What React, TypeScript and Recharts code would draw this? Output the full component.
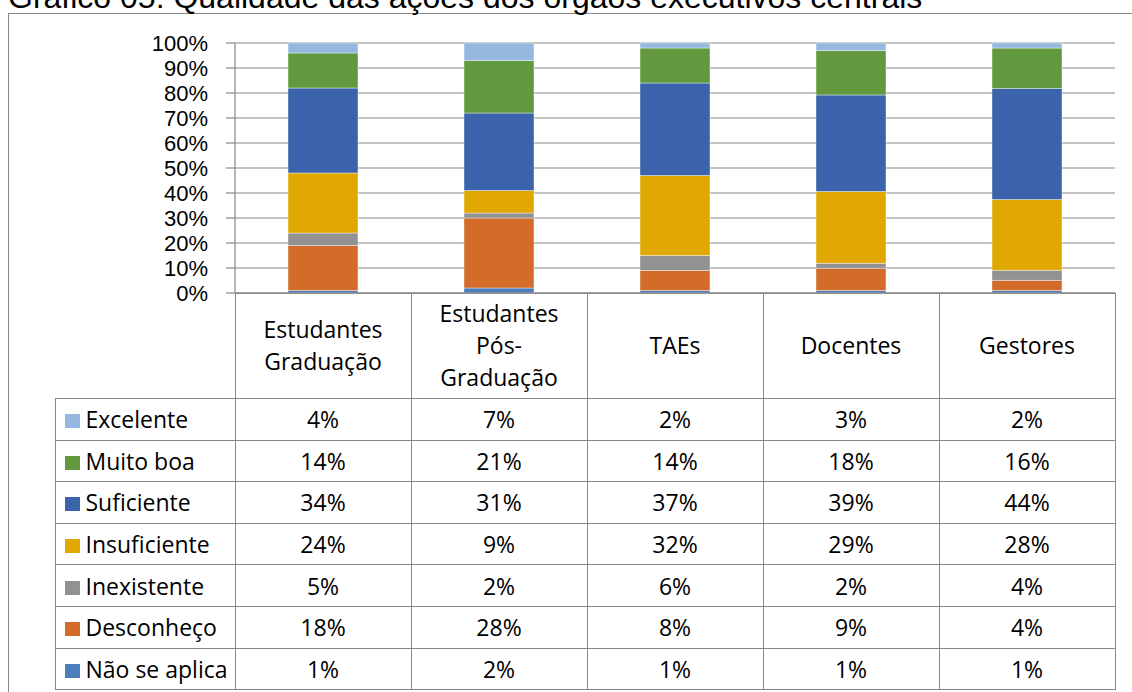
import { BarChart, Bar, XAxis, YAxis, CartesianGrid } from 'recharts'

const categories = ['Estudantes Graduação', 'Estudantes Pós-Graduação', 'TAEs', 'Docentes', 'Gestores']

// one array per answer, in category order (values in %)
const excelente = [4, 7, 2, 3, 2]
const muitoBoa = [14, 21, 14, 18, 16]
const suficiente = [34, 31, 37, 39, 44]
const insuficiente = [24, 9, 32, 29, 28]
const inexistente = [5, 2, 6, 2, 4]
const desconheco = [18, 28, 8, 9, 4]
const naoSeAplica = [1, 2, 1, 1, 1]

const yTicks = [0, 0.1, 0.2, 0.3, 0.4, 0.5, 0.6, 0.7, 0.8, 0.9, 1]

const title = 'Gráfico 05: Qualidade das ações dos órgãos executivos centrais'

// table order (top to bottom) = stack order reversed
const series = [
  { key: 'exc', name: 'Excelente', values: excelente, color: '#95b8e0' },
  { key: 'mb', name: 'Muito boa', values: muitoBoa, color: '#62993e' },
  { key: 'suf', name: 'Suficiente', values: suficiente, color: '#3a63ab' },
  { key: 'ins', name: 'Insuficiente', values: insuficiente, color: '#e0a800' },
  { key: 'inex', name: 'Inexistente', values: inexistente, color: '#929292' },
  { key: 'desc', name: 'Desconheço', values: desconheco, color: '#d36b29' },
  { key: 'nsa', name: 'Não se aplica', values: naoSeAplica, color: '#4b7eba' },
]

const data = categories.map((name, i) => {
  const row: Record<string, string | number> = { name }
  series.forEach(s => { row[s.key] = s.values[i] })
  return row
})

const GRID = '#888888'
const TABLE_FONT = '"Open Sans", "Noto Sans", sans-serif'

function CategoryTick(props: any) {
  const { x, y, payload } = props
  const lines: string[] = String(payload.value).split(/ |(?<=-)/)
  const mid = (lines.length - 1) / 2
  return (
    <g>
      {lines.map((line, i) => (
        <text
          key={i}
          x={x}
          y={y + 61 + (i - mid) * 32}
          textAnchor="middle"
          fontFamily={TABLE_FONT}
          fontSize={23}
          fill="#000"
        >
          {line}
        </text>
      ))}
    </g>
  )
}

const cell: React.CSSProperties = {
  border: `1px solid ${GRID}`,
  padding: 0,
  textAlign: 'center',
  whiteSpace: 'nowrap',
}

export default function App() {
  return (
    <div style={{ position: 'absolute', left: 0, top: 0, width: 1132, height: 692, overflow: 'hidden', background: '#fff' }}>
      <div style={{ position: 'absolute', left: 8, top: 13, width: 1200, height: 800, border: `1px solid ${GRID}` }} />
      <div
        style={{
          position: 'absolute',
          left: 8,
          top: -19,
          fontFamily: '"Liberation Sans", Arial, sans-serif',
          fontSize: 32,
          lineHeight: 1,
          whiteSpace: 'nowrap',
        }}
      >
        {title}
      </div>

      <table
        style={{
          position: 'absolute',
          left: 54.5,
          top: 292.5,
          width: 1061,
          borderCollapse: 'collapse',
          tableLayout: 'fixed',
          fontFamily: TABLE_FONT,
          fontSize: 23,
          color: '#000',
        }}
      >
        <colgroup>
          <col style={{ width: 180 }} />
          {categories.map(c => <col key={c} style={{ width: 176 }} />)}
        </colgroup>
        <tbody>
          <tr style={{ height: 105.5 }}>
            <td style={{ padding: 0 }} />
            {categories.map(c => <td key={c} style={cell} />)}
          </tr>
          {series.map(s => (
            <tr key={s.key} style={{ height: 41.6 }}>
              <td style={{ ...cell, textAlign: 'left', paddingLeft: 9 }}>
                <span style={{ display: 'inline-block', width: 15, height: 14, background: s.color, marginRight: 6 }} />
                {s.name}
              </td>
              {s.values.map((v, i) => <td key={i} style={cell}>{v}%</td>)}
            </tr>
          ))}
        </tbody>
      </table>

      <div style={{ position: 'absolute', left: 0, top: 0 }}>
        <BarChart
          width={1132}
          height={398}
          data={data}
          stackOffset="expand"
          margin={{ top: 43, right: 17, bottom: 0, left: 0 }}
          barSize={70}
        >
          <CartesianGrid vertical={false} stroke={GRID} strokeWidth={1.2} />
          <XAxis
            dataKey="name"
            height={105}
            axisLine={{ stroke: GRID, strokeWidth: 1.2 }}
            tickLine={false}
            tickSize={0}
            tickMargin={0}
            interval={0}
            tick={<CategoryTick />}
          />
          <YAxis
            width={235}
            domain={[0, 1]}
            ticks={yTicks}
            interval={0}
            tickFormatter={(v: number) => `${Math.round(v * 100)}%`}
            axisLine={{ stroke: GRID, strokeWidth: 1.2 }}
            tickLine={{ stroke: GRID, strokeWidth: 1.2 }}
            tickSize={9}
            tickMargin={18}
            tick={{ fill: '#000', fontSize: 22, fontFamily: '"Liberation Sans", Arial, sans-serif' }}
          />
          {[...series].reverse().map(s => (
            <Bar
              key={s.key}
              dataKey={s.key}
              name={s.name}
              stackId="a"
              fill={s.color}
              stroke="#ffffff"
              strokeOpacity={0.5}
              strokeWidth={0.8}
              isAnimationActive={false}
            />
          ))}
        </BarChart>
      </div>
    </div>
  )
}
